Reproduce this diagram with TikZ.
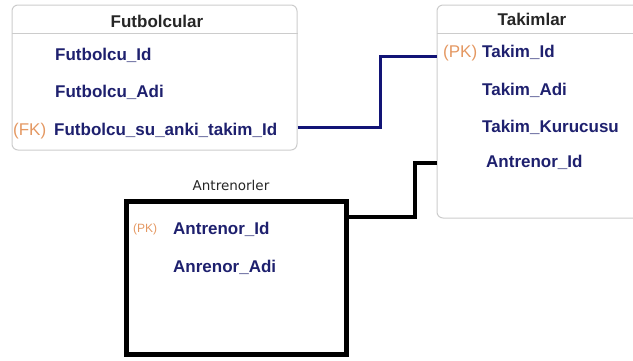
\documentclass[tikz,border=0pt]{standalone}
\usepackage{fontspec}
\setmainfont{Liberation Sans}
\newfontfamily\titlefont{DejaVu Sans}
\definecolor{rowblue}{RGB}{30,32,110}
\definecolor{keyorange}{RGB}{228,152,98}
\definecolor{linkblue}{RGB}{18,20,118}
\begin{document}
\begin{tikzpicture}[x=1pt,y=-1pt,
    tablebox/.style={draw=gray!40, line width=1pt, rounded corners=6pt, inner sep=0pt},
    coachbox/.style={draw=black, line width=5pt, inner sep=0pt},
    tabletitle/.style={anchor=base, inner sep=0pt, font=\bfseries\fontsize{17}{20}\selectfont, text=black!85},
    field/.style={anchor=base west, inner sep=0pt, text height=12pt, text depth=3.5pt,
        font=\bfseries\fontsize{17}{20}\selectfont, text=rowblue},
    keytag/.style={anchor=base west, inner sep=0pt, font=\fontsize{17}{20}\selectfont, text=keyorange},
    bluelink/.style={draw=linkblue, line width=3pt},
    blacklink/.style={draw=black, line width=4pt}]
    \useasboundingbox (0,0) rectangle (633,360);
    \clip (0,0) rectangle (633,360);
    % Futbolcular
    \node [tablebox, minimum width=285pt, minimum height=145pt] (futbolcular) at (154.5,77.5) {};
    \draw [gray!40, line width=1pt] (futbolcular.west |- 0,33) -- (futbolcular.east |- 0,33);
    \node [tabletitle] (futtitle) at (157,27) {Futbolcular};
    \node [field] (futid) at (55,60) {Futbolcu\_Id};
    \node [field] (futadi) at (55,97) {Futbolcu\_Adi};
    \node [field] (futfk) at (54,135) {Futbolcu\_su\_anki\_takim\_Id};
    \node [keytag] (fktag) at (13,135) {(FK)};
    % Takimlar
    \node [tablebox, minimum width=223pt, minimum height=213pt] (takimlar) at (548.5,111.5) {};
    \draw [gray!40, line width=1pt] (takimlar.west |- 0,33) -- (takimlar.east |- 0,33);
    \node [tabletitle] (taktitle) at (532,25) {Takimlar};
    \node [keytag] (pktag) at (443,57) {(PK)};
    \node [field] (takid) at (482,57) {Takim\_Id};
    \node [field] (takadi) at (482,95) {Takim\_Adi};
    \node [field] (takkur) at (482,132) {Takim\_Kurucusu};
    \node [field] (takant) at (486,167) {Antrenor\_Id};
    % Antrenorler
    \node [coachbox, minimum width=220pt, minimum height=153pt] (antrenorler) at (236.5,277.5) {};
    \node [anchor=base, inner sep=0pt, font=\titlefont\fontsize{13.5}{16}\selectfont, text=black!85]
        (anttitle) at (231,190) {Antrenorler};
    \node [keytag, font=\fontsize{12}{14}\selectfont] (antpk) at (133,232) {(PK)};
    \node [field] (antid) at (173,234) {Antrenor\_Id};
    \node [field] (antadi) at (173,272) {Anrenor\_Adi};
    % links
    \draw [bluelink] ([yshift=3pt]futfk.east -| futbolcular.east) -- ++(83,0)
        |- ([yshift=-4pt]takid.west -| takimlar.west);
    \draw [blacklink] ([yshift=-18pt]antrenorler.north east) -- ++(66,0)
        |- (takant.west -| takimlar.west);
\end{tikzpicture}
\end{document}
